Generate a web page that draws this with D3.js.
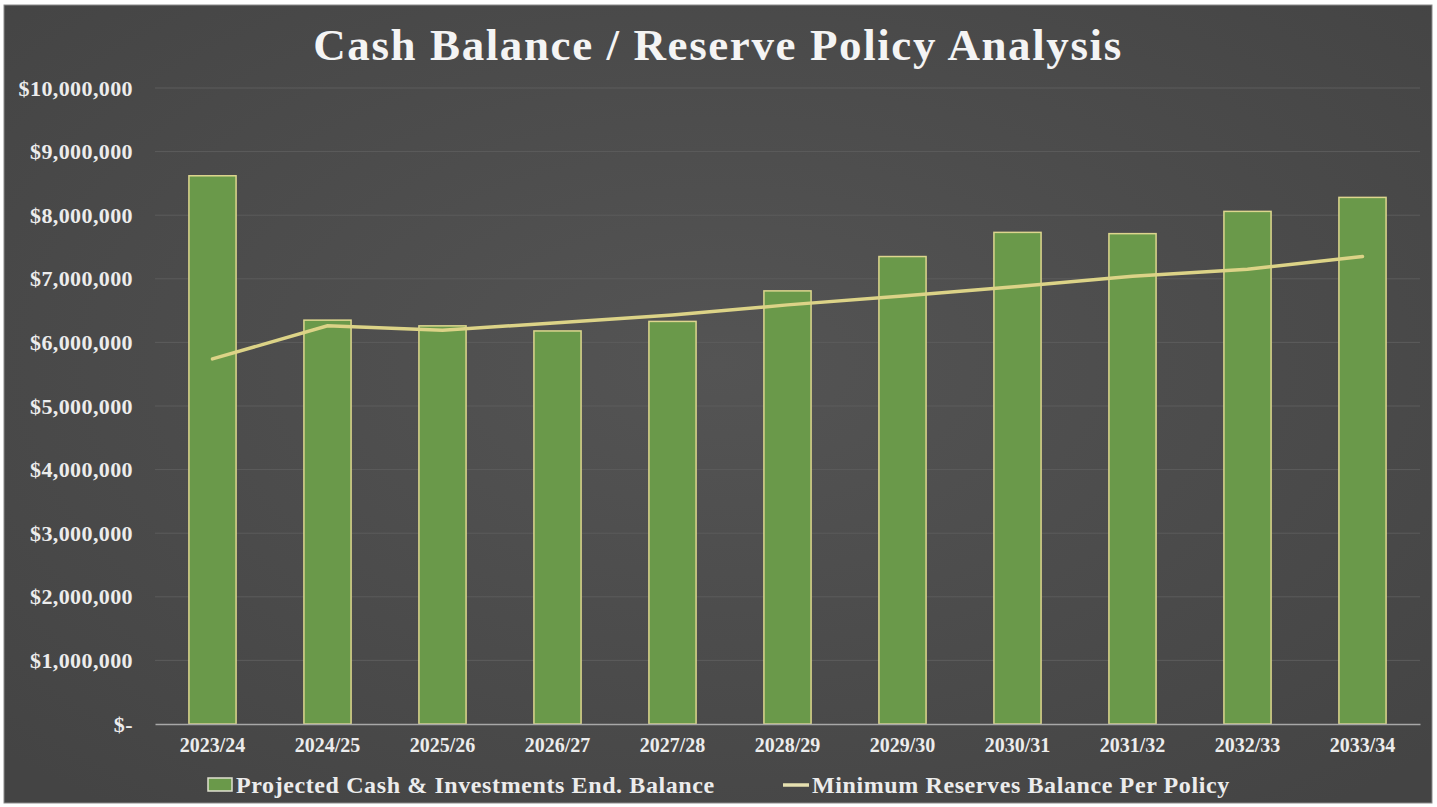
<!DOCTYPE html>
<html>
<head>
<meta charset="utf-8">
<script src="https://cdn.jsdelivr.net/npm/d3@7"></script>
<style>
  html, body { margin: 0; padding: 0; background: #ffffff; }
  svg { display: block; }
</style>
</head>
<body>
<svg id="chart" width="1437" height="807"></svg>
<script>
const categories = ["2023/24","2024/25","2025/26","2026/27","2027/28","2028/29","2029/30","2030/31","2031/32","2032/33","2033/34"];
const cashBalance = [8620000, 6350000, 6260000, 6180000, 6330000, 6810000, 7350000, 7730000, 7710000, 8060000, 8280000];
const minReserves = [5740000, 6260000, 6190000, 6310000, 6430000, 6590000, 6730000, 6880000, 7040000, 7150000, 7350000];
const yTicks = [0, 1000000, 2000000, 3000000, 4000000, 5000000, 6000000, 7000000, 8000000, 9000000, 10000000];
const title = "Cash Balance / Reserve Policy Analysis";
const seriesNames = ["Projected Cash & Investments End. Balance", "Minimum Reserves Balance Per Policy"];

const svg = d3.select("#chart");
const W = 1437, H = 807;
const font = "'Liberation Serif', 'Times New Roman', serif";

const defs = svg.append("defs");
const grad = defs.append("radialGradient").attr("id","bg").attr("cx","50%").attr("cy","45%").attr("r","70%");
grad.append("stop").attr("offset","0%").attr("stop-color","#545454");
grad.append("stop").attr("offset","100%").attr("stop-color","#444444");

svg.append("rect").attr("x",4).attr("y",5).attr("width",W-9).attr("height",H-9)
  .attr("fill","url(#bg)").attr("stroke","#8a8a8a").attr("stroke-width",1);

const plot = {left:155, right:1420, top:88, bottom:724};

const x = d3.scaleBand().domain(categories).range([plot.left, plot.right]).paddingInner(0.59).paddingOuter(0.295);
const y = d3.scaleLinear().domain([0, 10000000]).range([plot.bottom, plot.top]);

// gridlines
svg.append("g").selectAll("line").data(yTicks.filter(d => d > 0)).join("line")
  .attr("x1", plot.left).attr("x2", plot.right)
  .attr("y1", d => y(d)).attr("y2", d => y(d))
  .attr("stroke", "#5c5c5c").attr("stroke-width", 1);

// y axis
const fmt = d3.format(",");
const yAxis = d3.axisLeft(y).tickValues(yTicks).tickSize(0).tickPadding(22)
  .tickFormat(d => d === 0 ? "$-" : "$" + fmt(d));
const gy = svg.append("g").attr("transform", `translate(${plot.left},0)`).call(yAxis);
gy.select(".domain").remove();
gy.selectAll("text").attr("fill","#ececec").attr("font-family",font).attr("font-weight","bold")
  .attr("font-size","22px").attr("letter-spacing","0.4px");

// bars
svg.append("g").selectAll("rect").data(categories).join("rect")
  .attr("x", d => x(d)).attr("width", x.bandwidth())
  .attr("y", (d,i) => y(cashBalance[i])).attr("height", (d,i) => y(0) - y(cashBalance[i]))
  .attr("fill", "#6a994a").attr("stroke", "#ddd68e").attr("stroke-width", 1.5);

// x axis
const xAxis = d3.axisBottom(x).tickSize(0).tickPadding(14);
const gx = svg.append("g").attr("transform", `translate(0,${plot.bottom})`).call(xAxis);
gx.select(".domain").attr("stroke","#a8a8a8").attr("stroke-width",1.5);
gx.selectAll("text").attr("fill","#ececec").attr("font-family",font).attr("font-weight","bold").attr("font-size","20px");

// line
const line = d3.line().x((d,i) => x(categories[i]) + x.bandwidth()/2).y(d => y(d));
svg.append("path").datum(minReserves).attr("d", line)
  .attr("fill","none").attr("stroke","#dcd387").attr("stroke-width",3.5).attr("stroke-linecap","round");

// title
svg.append("text").attr("x", 718).attr("y", 60).attr("text-anchor","middle")
  .attr("fill","#f4f4f4").attr("font-family",font).attr("font-weight","bold").attr("font-size","45px")
  .attr("letter-spacing","1.6px")
  .text(title);

// legend
const lg = svg.append("g");
lg.append("rect").attr("x",208).attr("y",778).attr("width",24).attr("height",13)
  .attr("fill","#6a994a").attr("stroke","#e0e0d0").attr("stroke-width",1.5);
lg.append("text").attr("x",236).attr("y",793).attr("fill","#ececec").attr("font-family",font)
  .attr("font-weight","bold").attr("font-size","24px").attr("letter-spacing","0.6px").text(seriesNames[0]);
lg.append("line").attr("x1",783).attr("x2",809).attr("y1",785).attr("y2",785)
  .attr("stroke","#e6e0b0").attr("stroke-width",3.5);
lg.append("text").attr("x",812).attr("y",793).attr("fill","#ececec").attr("font-family",font)
  .attr("font-weight","bold").attr("font-size","24px").attr("letter-spacing","0.6px").text(seriesNames[1]);
</script>
</body>
</html>
